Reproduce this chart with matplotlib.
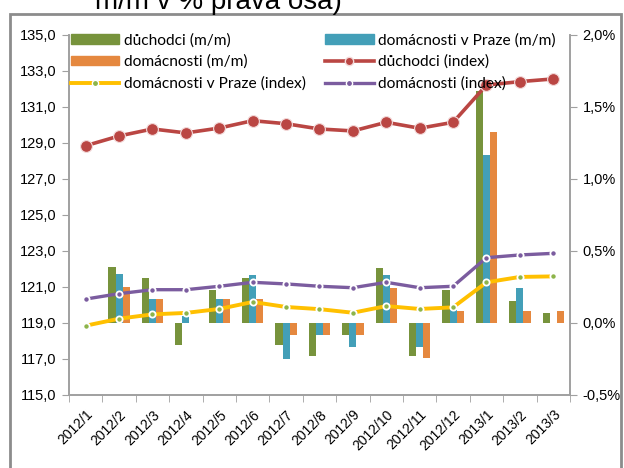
import matplotlib.pyplot as plt
import matplotlib.patches as mpatches
import numpy as np

plt.rcParams['font.family'] = ['Liberation Sans', 'DejaVu Sans']

# --- data ---
months = ['2012/1', '2012/2', '2012/3', '2012/4', '2012/5', '2012/6', '2012/7', '2012/8',
          '2012/9', '2012/10', '2012/11', '2012/12', '2013/1', '2013/2', '2013/3']

# m/m changes in % (right axis)
duchodci_mm = [np.nan, 0.39, 0.31, -0.15, 0.23, 0.31, -0.15, -0.23,
               -0.08, 0.38, -0.23, 0.23, 1.61, 0.15, 0.07]
praha_mm = [np.nan, 0.34, 0.165, 0.05, 0.165, 0.33, -0.25, -0.085,
            -0.165, 0.33, -0.165, 0.09, 1.165, 0.245, np.nan]
domacnosti_mm = [np.nan, 0.25, 0.165, np.nan, 0.165, 0.165, -0.085, -0.085,
                 -0.085, 0.245, -0.245, 0.08, 1.325, 0.08, 0.08]

# index values (left axis)
duchodci_idx = [128.85, 129.39, 129.78, 129.56, 129.83, 130.24, 130.07, 129.78,
                129.67, 130.15, 129.82, 130.15, 132.22, 132.41, 132.56]
domacnosti_idx = [120.33, 120.63, 120.85, 120.85, 121.04, 121.26, 121.17, 121.04,
                  120.96, 121.26, 120.96, 121.04, 122.63, 122.78, 122.87]
praha_idx = [118.85, 119.24, 119.48, 119.56, 119.78, 120.17, 119.89, 119.77,
             119.57, 119.94, 119.78, 119.87, 121.26, 121.56, 121.59]

green = '#77933C'
teal = '#439FB8'
orange = '#E5883F'
red = '#BA4643'
purple = '#7B5C9F'
yellow = '#FFC000'
axcol = '#A0A0A0'

fig = plt.figure(figsize=(6.24, 4.68), dpi=100)
ax = fig.add_axes([69/624, 1-395/468, (570-69)/624, (395-35)/468])  # bars, % scale
ax2 = ax.twinx()  # index lines, drawn on top

x = np.arange(len(months))
w = 0.213
ax.bar(x - w, duchodci_mm, w, color=green, zorder=2)
ax.bar(x, praha_mm, w, color=teal, zorder=2)
ax.bar(x + w, domacnosti_mm, w, color=orange, zorder=2)

ax2.plot(x, duchodci_idx, color=red, lw=2.6, marker='o', ms=8.5, mec='#F3DADA', mew=0.8)
ax2.plot(x, domacnosti_idx, color=purple, lw=2.4, marker='o', ms=4.5, mec='white', mew=1.3)
ax2.plot(x, praha_idx, color=yellow, lw=2.8, marker='o', ms=4.5, mfc='#8DB44A', mec='white', mew=1.3)

# bars on the right, lines on the left
ax.set_ylim(-0.5, 2.0)
ax.set_yticks(np.arange(-0.5, 2.01, 0.5))
ax.set_yticklabels([('%.1f%%' % v).replace('.', ',') for v in np.arange(-0.5, 2.01, 0.5)])
ax.yaxis.tick_right()
ax2.set_ylim(115, 135)
ax2.set_yticks(np.arange(115, 135.1, 2))
ax2.set_yticklabels([('%.1f' % v).replace('.', ',') for v in np.arange(115, 135.1, 2)])
ax2.yaxis.tick_left()

ax.set_xlim(-0.5, len(months) - 0.5)
ax.set_xticks(x)
ax.set_xticklabels(months, rotation=45, ha='right', rotation_mode='anchor', fontsize=10)
ax.set_xticks(np.arange(-0.5, len(months), 1), minor=True)
ax.tick_params(axis='x', which='major', length=0, pad=9)
ax.tick_params(axis='x', which='minor', length=5, color=axcol)

for a in (ax, ax2):
    a.spines['top'].set_visible(False)
    for s in ('left', 'right', 'bottom'):
        a.spines[s].set_color(axcol)
        a.spines[s].set_linewidth(1.2)
    a.tick_params(axis='y', length=5, color=axcol, labelsize=10.5, pad=4)

handles = [
    mpatches.Patch(color=green, label='důchodci (m/m)'),
    mpatches.Patch(color=orange, label='domácnosti (m/m)'),
    plt.Line2D([], [], color=yellow, lw=2.8, marker='o', ms=4.5, mfc='#8DB44A', mec='white',
               label='domácnosti v Praze (index)'),
    mpatches.Patch(color=teal, label='domácnosti v Praze (m/m)'),
    plt.Line2D([], [], color=red, lw=2.6, marker='o', ms=6, mec='#F3DADA',
               label='důchodci (index)'),
    plt.Line2D([], [], color=purple, lw=2.4, marker='o', ms=4.5, mec='white',
               label='domácnosti (index)'),
]
leg = ax2.legend(handles=handles, ncol=2, loc='upper left', bbox_to_anchor=(71/624, 1-33/468),
                 bbox_transform=fig.transFigure, frameon=False,
                 prop={'family': ['Lato', 'DejaVu Sans'], 'size': 11.2},
                 handlelength=3.1, handleheight=0.55, handletextpad=0.3,
                 labelspacing=0.48, columnspacing=1.25, borderaxespad=0, borderpad=0)
leg.set_zorder(10)

# outer chart frame and cut-off title
fig.patches.append(mpatches.Rectangle((10/624, -0.01), 611/624, 1-14/468 + 0.01,
                                      transform=fig.transFigure, fill=False,
                                      edgecolor='#8C8C8C', lw=2))
fig.text(95/624, 1-9/468, 'm/m v % pravá osa)', fontsize=20, va='baseline', ha='left')

fig.savefig('out.png', dpi=100)
